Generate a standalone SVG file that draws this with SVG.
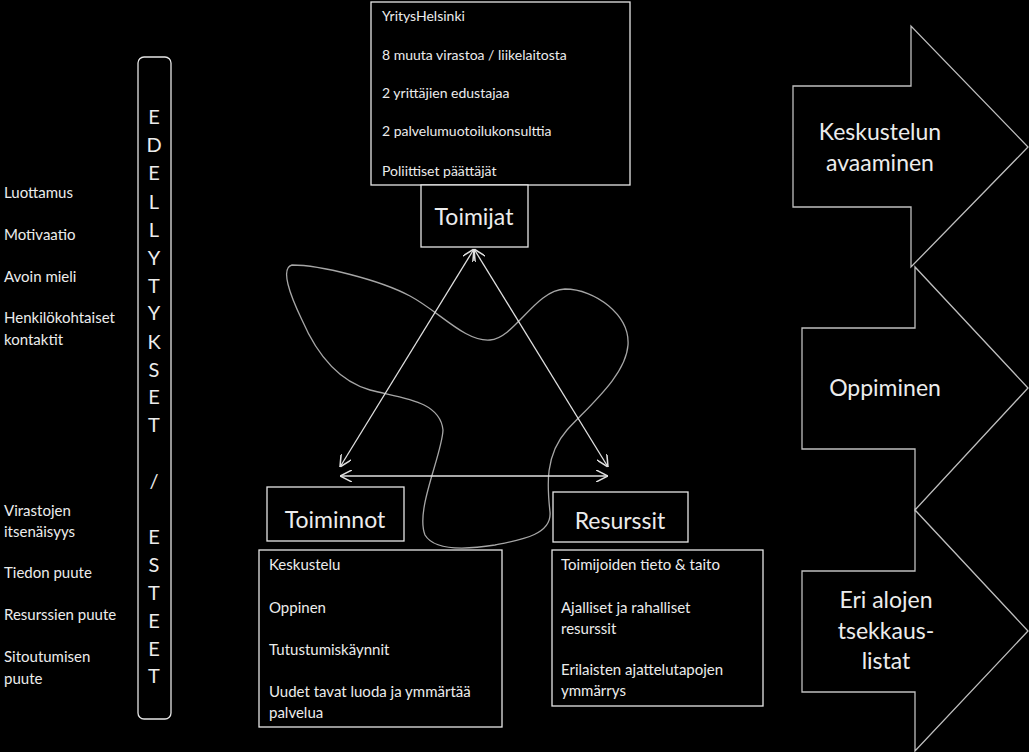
<svg xmlns="http://www.w3.org/2000/svg" width="1029" height="752" viewBox="0 0 1029 752">
<defs>
<style>
text{font-family:Lato,"Open Sans","Liberation Sans",sans-serif;fill:#ececec}
.box{fill:#000;stroke:#e6e6e6;stroke-width:1.3}
.big{font-size:23px}
.sm{font-size:14px}
.md{font-size:15px}
.arr{fill:#000;stroke:#bfbfbf;stroke-width:1.3}
.con{stroke:#e0e0e0;stroke-width:1.3;fill:none}
.vl{font-size:20px;text-anchor:middle}
</style>
<marker id="v" viewBox="0 0 10 10" refX="10" refY="5" markerWidth="12" markerHeight="12" markerUnits="userSpaceOnUse" orient="auto-start-reverse">
<path d="M0,0 L10,5 L0,10" fill="none" stroke="#e0e0e0" stroke-width="1.3"/>
</marker>
</defs>
<rect width="1029" height="752" fill="#000"/>

<g id="blob">
<path d="M292,265 C320,265 380,280 410,296 C440,312 465,342 490,340 C515,338 535,290 565,289 C595,289 630,315 628,345 C626,375 590,405 567,430 C545,455 547,485 550,512 C552,535 520,540 495,545 C470,549 435,552 425,535 C415,510 442,455 443,430 C440,400 400,398 370,390 C335,380 315,350 302,320 C290,295 280,268 292,265 Z" fill="none" stroke="#a6a6a6" stroke-width="1.3"/>
</g>

<g id="connectors">
<line class="con" x1="474" y1="249" x2="340" y2="467" marker-start="url(#v)" marker-end="url(#v)"/>
<line class="con" x1="474" y1="249" x2="608" y2="467" marker-start="url(#v)" marker-end="url(#v)"/>
<line class="con" x1="340" y1="476" x2="608" y2="476" marker-start="url(#v)" marker-end="url(#v)"/>
</g>

<g id="actors-list">
<rect class="box" x="371" y="2" width="259" height="183"/>
<text class="sm" x="382" y="21">YritysHelsinki</text>
<text class="sm" x="382" y="60">8 muuta virastoa / liikelaitosta</text>
<text class="sm" x="382" y="98">2 yrittäjien edustajaa</text>
<text class="sm" x="382" y="136">2 palvelumuotoilukonsulttia</text>
<text class="sm" x="382" y="176">Poliittiset päättäjät</text>
</g>

<g id="toimijat">
<rect class="box" x="421" y="185" width="107" height="62"/>
<text class="big" x="474" y="225" text-anchor="middle">Toimijat</text>
</g>

<g id="toiminnot">
<rect class="box" x="267" y="487" width="137" height="54"/>
<text class="big" x="335" y="528" text-anchor="middle">Toiminnot</text>
</g>

<g id="resurssit">
<rect class="box" x="553" y="492" width="135" height="50"/>
<text class="big" x="620" y="529" text-anchor="middle">Resurssit</text>
</g>

<g id="toiminnot-list">
<rect class="box" x="259" y="550" width="243" height="177"/>
<text class="md" x="269" y="570">Keskustelu</text>
<text class="md" x="269" y="613">Oppinen</text>
<text class="md" x="269" y="655">Tutustumiskäynnit</text>
<text class="md" x="269" y="697">Uudet tavat luoda ja ymmärtää</text>
<text class="md" x="269" y="718">palvelua</text>
</g>

<g id="resurssit-list">
<rect class="box" x="552" y="550" width="211" height="156"/>
<text class="md" x="561" y="570">Toimijoiden tieto &amp; taito</text>
<text class="md" x="561" y="613">Ajalliset ja rahalliset</text>
<text class="md" x="561" y="634">resurssit</text>
<text class="md" x="561" y="675">Erilaisten ajattelutapojen</text>
<text class="md" x="561" y="696">ymmärrys</text>
</g>

<g id="edellytykset">
<rect x="138" y="57" width="33" height="662" rx="6" fill="none" stroke="#e6e6e6" stroke-width="1.3"/>
<text class="vl" x="154" y="124">E</text>
<text class="vl" x="154" y="152">D</text>
<text class="vl" x="154" y="180">E</text>
<text class="vl" x="154" y="209">L</text>
<text class="vl" x="154" y="237">L</text>
<text class="vl" x="154" y="265">Y</text>
<text class="vl" x="154" y="293">T</text>
<text class="vl" x="154" y="320">Y</text>
<text class="vl" x="154" y="349">K</text>
<text class="vl" x="154" y="377">S</text>
<text class="vl" x="154" y="404">E</text>
<text class="vl" x="154" y="432">T</text>
<text class="vl" x="154" y="488">/</text>
<text class="vl" x="154" y="544">E</text>
<text class="vl" x="154" y="572">S</text>
<text class="vl" x="154" y="600">T</text>
<text class="vl" x="154" y="628">E</text>
<text class="vl" x="154" y="656">E</text>
<text class="vl" x="154" y="683">T</text>
</g>

<g id="left-labels">
<text class="md" x="4" y="198">Luottamus</text>
<text class="md" x="4" y="240">Motivaatio</text>
<text class="md" x="4" y="282">Avoin mieli</text>
<text class="md" x="4" y="323">Henkilökohtaiset</text>
<text class="md" x="4" y="345">kontaktit</text>
<text class="md" x="4" y="516">Virastojen</text>
<text class="md" x="4" y="537">itsenäisyys</text>
<text class="md" x="4" y="578">Tiedon puute</text>
<text class="md" x="4" y="620">Resurssien puute</text>
<text class="md" x="4" y="662">Sitoutumisen</text>
<text class="md" x="4" y="684">puute</text>
</g>

<g id="arrow-keskustelun">
<path class="arr" d="M793,86 L911,86 L911,26 L1028,147 L911,267 L911,207 L793,207 Z"/>
<text class="big" x="880" y="140" text-anchor="middle">Keskustelun</text>
<text class="big" x="880" y="171" text-anchor="middle">avaaminen</text>
</g>

<g id="arrow-oppiminen">
<path class="arr" d="M802,328 L915,328 L915,267 L1028,388 L915,510 L915,449 L802,449 Z"/>
<text class="big" x="885" y="396" text-anchor="middle">Oppiminen</text>
</g>

<g id="arrow-tsekkaus">
<path class="arr" d="M802,571 L915,571 L915,510 L1028,631 L915,751 L915,692 L802,692 Z"/>
<text class="big" x="886" y="608" text-anchor="middle">Eri alojen</text>
<text class="big" x="886" y="639" text-anchor="middle">tsekkaus-</text>
<text class="big" x="886" y="669" text-anchor="middle">listat</text>
</g>
</svg>
